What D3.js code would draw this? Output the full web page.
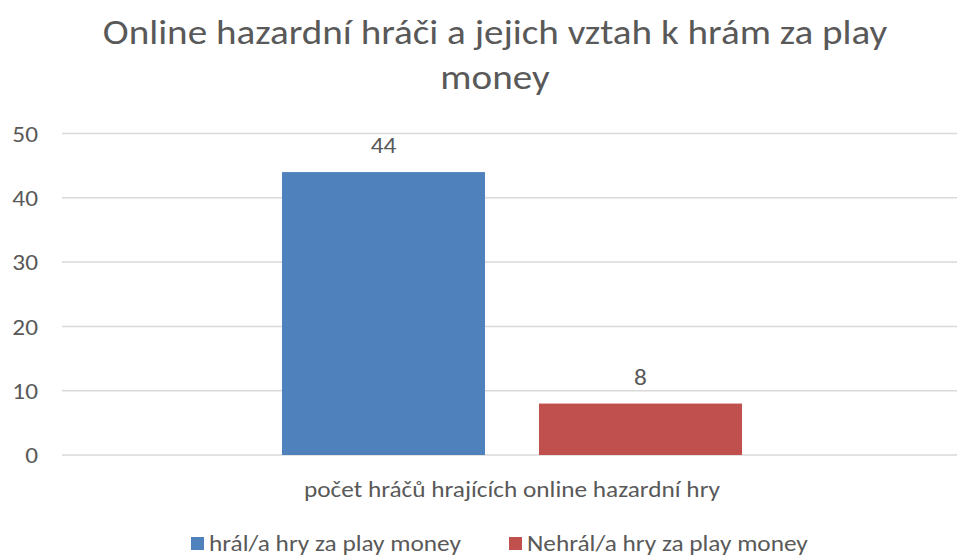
<!DOCTYPE html>
<html>
<head>
<meta charset="utf-8">
<script src="https://cdn.jsdelivr.net/npm/d3@7"></script>
<style>
  html, body { margin: 0; padding: 0; background: #fff; }
  svg text { font-family: Carlito, Calibri, Lato, sans-serif; fill: #595959; }
</style>
</head>
<body>
<svg id="chart" width="957" height="556"></svg>
<script>
const titleLines = ["Online hazardní hráči a jejich vztah k hrám za play", "money"];
const categories = ["počet hráčů hrajících online hazardní hry"];
const seriesNames = ["hrál/a hry za play money", "Nehrál/a hry za play money"];
const seriesValues = [44, 8];
const seriesColors = ["#4f81bd", "#c0504d"];
const yTicks = [0, 10, 20, 30, 40, 50];

const SX = 1.15; // horizontal text stretch to mimic the reference rendering
const svg = d3.select("#chart");

// Title
const tg = svg.append("g").attr("transform", "translate(495,0)");
tg.selectAll("text").data(titleLines).join("text")
  .attr("text-anchor", "middle").style("font-size", "34px")
  .attr("transform", (d, i) => `translate(0,${44 + i * 45}) scale(${SX},1)`)
  .text(d => d);

// Scales
const y = d3.scaleLinear().domain([0, 50]).range([455, 133.5]);
const x0 = d3.scaleBand().domain(categories).range([62, 962]).padding(0);
const x1 = d3.scaleBand().domain(seriesNames).range([220, 680]).paddingInner(0.21).paddingOuter(0);

// Gridlines
svg.append("g").selectAll("line").data(yTicks).join("line")
  .attr("x1", 62).attr("x2", 962)
  .attr("y1", d => y(d)).attr("y2", d => y(d))
  .attr("stroke", "#d9d9d9").attr("stroke-width", 1.5);

// Y axis labels
const yAxis = d3.axisLeft(y).tickValues(yTicks).tickSize(0).tickPadding(0);
const yg = svg.append("g").attr("transform", "translate(38,0)").call(yAxis);
yg.select(".domain").remove();
yg.selectAll("text").style("font-size", "22px").attr("fill", "#595959")
  .attr("x", 0).attr("dy", "0.35em").attr("transform", `scale(${SX},1)`)
  .style("font-family", null);

// Bars
const group = svg.append("g").selectAll("g").data(categories).join("g")
  .attr("transform", d => `translate(${x0(d)},0)`);
const bars = seriesNames.map((s, i) => ({ s, v: seriesValues[i], c: seriesColors[i] }));
group.selectAll("rect").data(bars).join("rect")
  .attr("x", d => x1(d.s)).attr("width", x1.bandwidth())
  .attr("y", d => y(d.v)).attr("height", d => y(0) - y(d.v))
  .attr("fill", d => d.c);
group.selectAll("text.val").data(bars).join("text").attr("class", "val")
  .attr("transform", d => `translate(${x1(d.s) + x1.bandwidth() / 2},${y(d.v) - 19}) scale(${SX},1)`)
  .attr("text-anchor", "middle").style("font-size", "22px").text(d => d.v);

// X axis category label
const xAxis = d3.axisBottom(x0).tickSize(0).tickPadding(0);
const xg = svg.append("g").attr("transform", "translate(0,493)").call(xAxis);
xg.select(".domain").remove();
xg.selectAll("text").style("font-size", "22px").attr("fill", "#595959")
  .attr("y", 0).attr("dy", "0.2em").attr("transform", `scale(${SX},1)`)
  .style("font-family", null);

// Legend
const legendX = [191, 509];
const lg = svg.append("g").selectAll("g").data(bars).join("g")
  .attr("transform", (d, i) => `translate(${legendX[i]},537)`);
lg.append("rect").attr("width", 13).attr("height", 13).attr("fill", d => d.c);
lg.append("text").attr("transform", `translate(18,14) scale(${SX},1)`)
  .style("font-size", "22px").text(d => d.s);
</script>
</body>
</html>
